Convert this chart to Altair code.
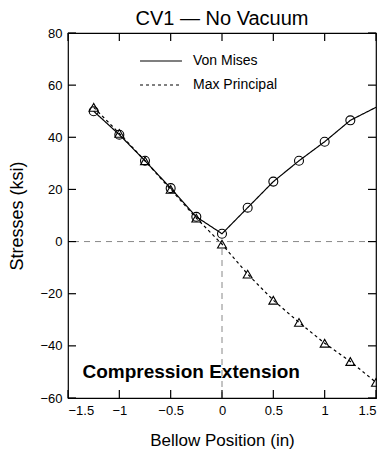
import altair as alt
import pandas as pd

# ---- data ----
positions = [-1.25, -1.0, -0.75, -0.5, -0.25, 0.0, 0.25, 0.5, 0.75, 1.0, 1.25, 1.5]
von_mises = [50.0, 41.0, 31.0, 20.5, 9.5, 3.0, 13.0, 23.0, 31.0, 38.3, 46.5, 51.5]
max_principal = [51.5, 41.5, 31.0, 20.0, 9.0, -1.0, -12.5, -22.5, -31.0, -39.0, -46.0, -54.0]
series_names = ["Von Mises", "Max Principal"]
vm_marker_count = 11  # Von Mises curve has no marker at 1.5
x_ticks = [-1.5, -1.0, -0.5, 0.0, 0.5, 1.0, 1.5]
y_ticks = [-60, -40, -20, 0, 20, 40, 60, 80]
annotation_text = ["Compression Extension"]
annotation_x = [-0.30]
annotation_y = [-52.5]

FONT = "Liberation Sans"
W, H = 308, 365

lines_df = pd.DataFrame(
    {"x": positions + positions,
     "y": von_mises + max_principal,
     "series": [series_names[0]] * len(positions) + [series_names[1]] * len(positions),
     "order": list(range(len(positions))) * 2}
)
vm_pts = pd.DataFrame({"x": positions[:vm_marker_count], "y": von_mises[:vm_marker_count]})
mp_pts = pd.DataFrame({"x": positions, "y": max_principal})
xt_df = pd.DataFrame({"v": x_ticks})
yt_df = pd.DataFrame({"v": y_ticks})
zero_df = pd.DataFrame({"v": [0.0]})
zero_v_df = pd.DataFrame({"v": [0.0], "lo": [-60.0], "hi": [0.0]})
ann_df = pd.DataFrame({"t": annotation_text, "x": annotation_x, "y": annotation_y})

xs = alt.Scale(domain=[-1.5, 1.5], nice=False, zero=False)
ys = alt.Scale(domain=[-60, 80], nice=False, zero=False)

x_enc = alt.X("x:Q", scale=xs, axis=alt.Axis(values=x_ticks, format=".1~f", title="Bellow Position (in)"))
y_enc = alt.Y("y:Q", scale=ys, axis=alt.Axis(values=y_ticks, format="d", title="Stresses (ksi)"))

lines = alt.Chart(lines_df).mark_line(color="black", strokeWidth=1.2).encode(
    x=x_enc, y=y_enc, order="order:Q",
    strokeDash=alt.StrokeDash(
        "series:N",
        scale=alt.Scale(domain=series_names, range=[[1, 0], [3, 3]]),
        legend=alt.Legend(
            title=None, orient="none", legendX=86, legendY=21,
            symbolType="M-4,0H4", symbolSize=110, symbolStrokeWidth=1.2,
            symbolStrokeColor="black", symbolFillColor="transparent",
            labelFont=FONT, labelFontSize=14,
            labelColor="black", labelOffset=25, padding=0, rowPadding=10,
        ),
    ),
)

pt_style = dict(filled=False, color="black", size=80, strokeWidth=1.1, opacity=1)
vm_points = alt.Chart(vm_pts).mark_point(shape="circle", **pt_style).encode(
    x=alt.X("x:Q", scale=xs), y=alt.Y("y:Q", scale=ys))
mp_points = alt.Chart(mp_pts).mark_point(shape="triangle-up", **pt_style).encode(
    x=alt.X("x:Q", scale=xs), y=alt.Y("y:Q", scale=ys))

zero_h = alt.Chart(zero_df).mark_rule(color="#888888", strokeDash=[6, 5], strokeWidth=1).encode(
    y=alt.Y("v:Q", scale=ys))
zero_v = alt.Chart(zero_v_df).mark_rule(color="#888888", strokeDash=[6, 5], strokeWidth=1).encode(
    x=alt.X("v:Q", scale=xs), y=alt.Y("lo:Q", scale=ys), y2="hi:Q")

tick_style = dict(color="black", strokeWidth=1.2)
yl = alt.Chart(yt_df).mark_rule(**tick_style).encode(y=alt.Y("v:Q", scale=ys), x=alt.value(0), x2=alt.value(8))
yr = alt.Chart(yt_df).mark_rule(**tick_style).encode(y=alt.Y("v:Q", scale=ys), x=alt.value(W - 8), x2=alt.value(W))
xb = alt.Chart(xt_df).mark_rule(**tick_style).encode(x=alt.X("v:Q", scale=xs), y=alt.value(H - 8), y2=alt.value(H))
xtp = alt.Chart(xt_df).mark_rule(**tick_style).encode(x=alt.X("v:Q", scale=xs), y=alt.value(0), y2=alt.value(8))

ann = alt.Chart(ann_df).mark_text(font=FONT, fontSize=19, fontWeight="bold", color="black",
                                  align="center", baseline="alphabetic").encode(
    x=alt.X("x:Q", scale=xs), y=alt.Y("y:Q", scale=ys), text="t:N")

chart = alt.layer(zero_h, zero_v, lines, vm_points, mp_points, yl, yr, xb, xtp, ann).properties(
    width=W, height=H,
    title=alt.TitleParams("CV1 \u2014 No Vacuum", font=FONT, fontSize=20, fontWeight="normal",
                          color="black", offset=-2, anchor="middle"),
    autosize=alt.AutoSizeParams(type="none"),
    padding={"left": 60, "top": 25, "right": 1, "bottom": 52},
).configure_view(stroke="black", strokeWidth=1.2).configure_axis(
    domain=False, ticks=False, grid=False,
    labelFont=FONT, labelFontSize=13, labelColor="black", labelPadding=6,
    titleFont=FONT, titleFontWeight="normal", titleColor="black",
).configure_axisX(titleFontSize=17, titlePadding=15).configure_axisY(titleFontSize=18, titlePadding=13)

chart.save("out.html", embed_options={"renderer": "svg", "actions": False})
